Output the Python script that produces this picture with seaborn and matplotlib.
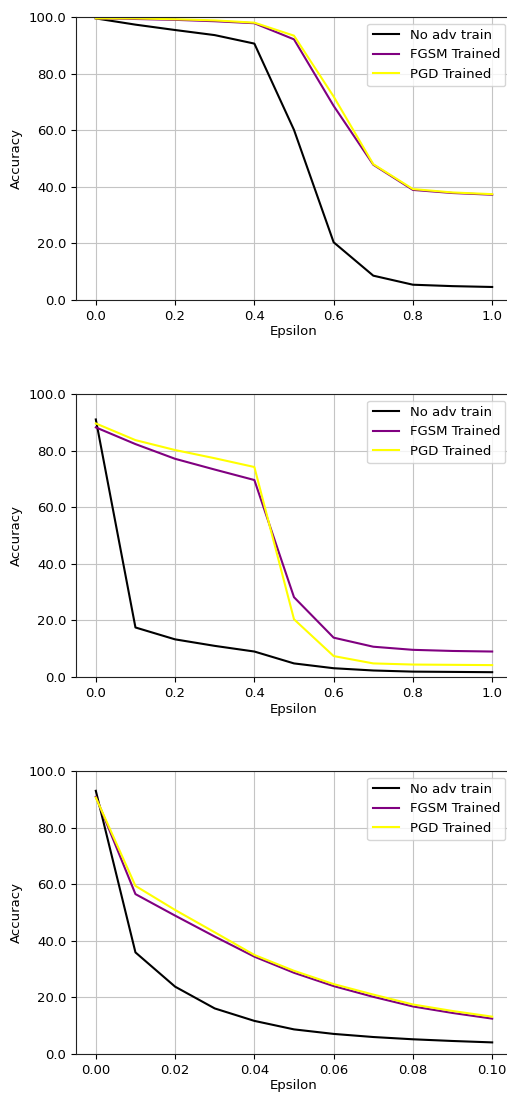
import matplotlib
matplotlib.use("Agg")
import matplotlib.pyplot as plt
from matplotlib.ticker import FormatStrFormatter
import seaborn as sns
import numpy as np

eps_a = [0.0, 0.1, 0.2, 0.3, 0.4, 0.5, 0.6, 0.7, 0.8, 0.9, 1.0]
eps_c = [0.0, 0.01, 0.02, 0.03, 0.04, 0.05, 0.06, 0.07, 0.08, 0.09, 0.10]

p1_noadv = [99.5, 97.3, 95.4, 93.6, 90.6, 60.1, 20.4, 8.6, 5.4, 4.9, 4.6]
p1_fgsm = [99.5, 99.3, 99.0, 98.5, 97.8, 92.1, 68.6, 47.8, 38.9, 37.8, 37.2]
p1_pgd = [99.5, 99.5, 99.2, 98.8, 98.0, 93.4, 71.9, 48.0, 39.2, 38.0, 37.4]

p2_noadv = [91.0, 17.5, 13.3, 11.0, 9.0, 4.8, 3.1, 2.3, 1.9, 1.8, 1.7]
p2_fgsm = [88.2, 82.3, 77.1, 73.3, 69.6, 28.2, 13.9, 10.7, 9.6, 9.2, 9.0]
p2_pgd = [89.6, 83.7, 80.2, 77.3, 74.2, 20.4, 7.4, 4.8, 4.4, 4.3, 4.2]

p3_noadv = [93.0, 35.9, 23.8, 16.1, 11.7, 8.7, 7.1, 6.0, 5.2, 4.6, 4.1]
p3_fgsm = [90.9, 56.5, 48.9, 41.5, 34.4, 28.7, 24.0, 20.2, 16.8, 14.5, 12.5]
p3_pgd = [90.6, 59.4, 50.9, 43.0, 35.0, 29.4, 24.7, 21.0, 17.5, 15.2, 13.2]

labels = ["No adv train", "FGSM Trained", "PGD Trained"]
colors = ["black", "purple", "yellow"]

panels = [
    (eps_a, [p1_noadv, p1_fgsm, p1_pgd]),
    (eps_a, [p2_noadv, p2_fgsm, p2_pgd]),
    (eps_c, [p3_noadv, p3_fgsm, p3_pgd]),
]

plt.rcParams["font.size"] = 9.5
plt.rcParams["grid.color"] = "#c4c4c4"
plt.rcParams["axes.edgecolor"] = "#222222"

W, H = 507, 1093
fig = plt.figure(figsize=(W / 100, H / 100), dpi=100)
fig.patch.set_facecolor("white")

tops = [17, 394, 771]
ax_h = 283
left = 76
ax_w = 436

for (x, series), top in zip(panels, tops):
    bottom = H - (top + ax_h)
    ax = fig.add_axes([left / W, bottom / H, ax_w / W, ax_h / H])
    for vals, lab, col in zip(series, labels, colors):
        sns.lineplot(x=x, y=vals, color=col, label=lab, ax=ax, linewidth=1.5)
    ax.set_ylim(0, 100)
    ax.set_yticks([0, 20, 40, 60, 80, 100])
    ax.yaxis.set_major_formatter(FormatStrFormatter("%.1f"))
    ax.set_xlabel("Epsilon", labelpad=2)
    ax.set_ylabel("Accuracy")
    ax.grid(True)
    ax.legend(loc="upper right")

fig.savefig("out.png", dpi=100)
